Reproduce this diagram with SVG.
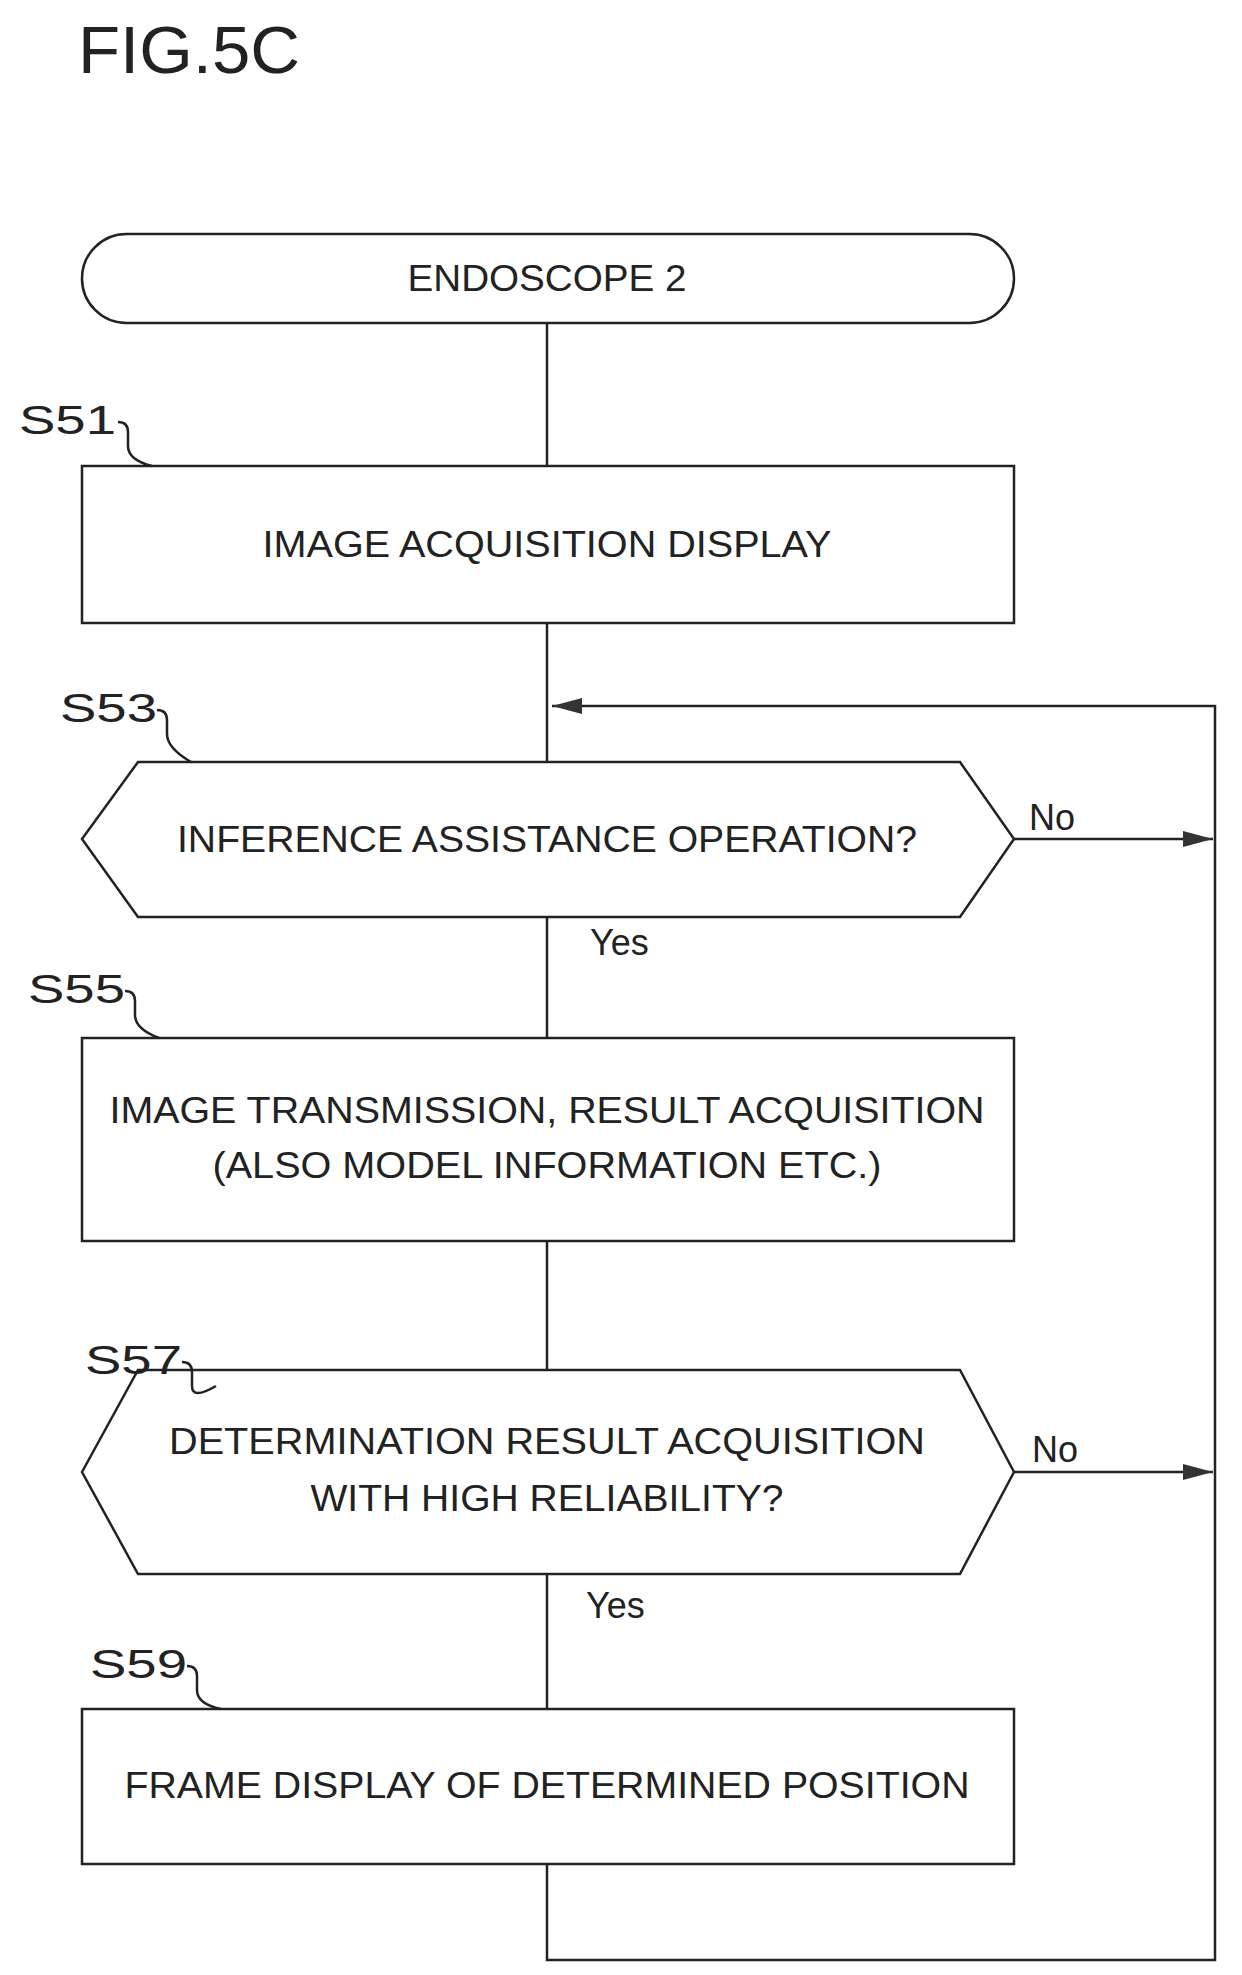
<svg xmlns="http://www.w3.org/2000/svg" width="1242" height="1975" viewBox="0 0 1242 1975">
<style>
.s{fill:none;stroke:#222;stroke-width:2.5}
.t{font-family:"Liberation Sans",Arial,sans-serif;font-size:36px;fill:#222;text-anchor:middle}
.l{font-family:"Liberation Sans",Arial,sans-serif;font-size:40px;fill:#222}
</style>
<defs>
<marker id="a" markerWidth="12" markerHeight="10" refX="12" refY="5" orient="auto" markerUnits="userSpaceOnUse"><path d="M0,0 L12,5 L0,10 Z" fill="#222"/></marker>
<marker id="b" markerWidth="30" markerHeight="16" refX="30" refY="8" orient="auto" markerUnits="userSpaceOnUse"><path d="M0,0 L30,8 L0,16 Z" fill="#333"/></marker>
</defs>
<rect width="1242" height="1975" fill="#fff"/>
<text class="l" x="78" y="73" style="font-size:66px" textLength="222" lengthAdjust="spacingAndGlyphs">FIG.5C</text>
<g id="connectors">
<path class="s" d="M547,323 V466"/>
<path class="s" d="M547,623 V762"/>
<path class="s" d="M547,917 V1038"/>
<path class="s" d="M547,1241 V1370"/>
<path class="s" d="M547,1574 V1709"/>
<path class="s" d="M547,1864 V1960 H1215 V706 H552" marker-end="url(#b)"/>
<path class="s" d="M1014,839 H1213" marker-end="url(#b)"/>
<path class="s" d="M1014,1472 H1213" marker-end="url(#b)"/>
<text class="l" x="1029" y="830" style="font-size:36px">No</text>
<text class="l" x="1032" y="1462" style="font-size:36px">No</text>
<text class="l" x="590" y="955" style="font-size:36px">Yes</text>
<text class="l" x="586" y="1618" style="font-size:36px">Yes</text>
</g>
<g id="start">
<rect class="s" x="82" y="234" width="932" height="89" rx="44.5"/>
<text class="t" x="547" y="291" textLength="279" lengthAdjust="spacingAndGlyphs">ENDOSCOPE 2</text>
</g>
<g id="S51">
<text class="l" x="19" y="434" textLength="97" lengthAdjust="spacingAndGlyphs">S51</text>
<path class="s" d="M118,422 q10,0 10,10 v14 q0,14 24,20"/>
<rect class="s" x="82" y="466" width="932" height="157"/>
<text class="t" x="547" y="557" textLength="569" lengthAdjust="spacingAndGlyphs">IMAGE ACQUISITION DISPLAY</text>
</g>
<g id="S53">
<text class="l" x="60" y="722" textLength="97" lengthAdjust="spacingAndGlyphs">S53</text>
<path class="s" d="M157,710 q10,0 10,10 v14 q0,14 24,28"/>
<path class="s" d="M82,839 L138,762 H960 L1014,839 L960,917 H138 Z"/>
<text class="t" x="547" y="852" textLength="740" lengthAdjust="spacingAndGlyphs">INFERENCE ASSISTANCE OPERATION?</text>
</g>
<g id="S55">
<text class="l" x="28" y="1003" textLength="97" lengthAdjust="spacingAndGlyphs">S55</text>
<path class="s" d="M125,991 q10,0 10,10 v14 q0,14 24,23"/>
<rect class="s" x="82" y="1038" width="932" height="203"/>
<text class="t" x="547" y="1123" textLength="875" lengthAdjust="spacingAndGlyphs">IMAGE TRANSMISSION, RESULT ACQUISITION</text>
<text class="t" x="547" y="1178" textLength="669" lengthAdjust="spacingAndGlyphs">(ALSO MODEL INFORMATION ETC.)</text>
</g>
<g id="S57">
<text class="l" x="85" y="1374" textLength="97" lengthAdjust="spacingAndGlyphs">S57</text>
<path class="s" d="M182,1362 q10,0 10,10 v14 q0,14 24,0"/>
<path class="s" d="M82,1472 L138,1370 H960 L1014,1472 L960,1574 H138 Z"/>
<text class="t" x="547" y="1454" textLength="756" lengthAdjust="spacingAndGlyphs">DETERMINATION RESULT ACQUISITION</text>
<text class="t" x="547" y="1511" textLength="473" lengthAdjust="spacingAndGlyphs">WITH HIGH RELIABILITY?</text>
</g>
<g id="S59">
<text class="l" x="90" y="1678" textLength="97" lengthAdjust="spacingAndGlyphs">S59</text>
<path class="s" d="M187,1666 q10,0 10,10 v14 q0,14 24,19"/>
<rect class="s" x="82" y="1709" width="932" height="155"/>
<text class="t" x="547" y="1798" textLength="845" lengthAdjust="spacingAndGlyphs">FRAME DISPLAY OF DETERMINED POSITION</text>
</g>
</svg>
